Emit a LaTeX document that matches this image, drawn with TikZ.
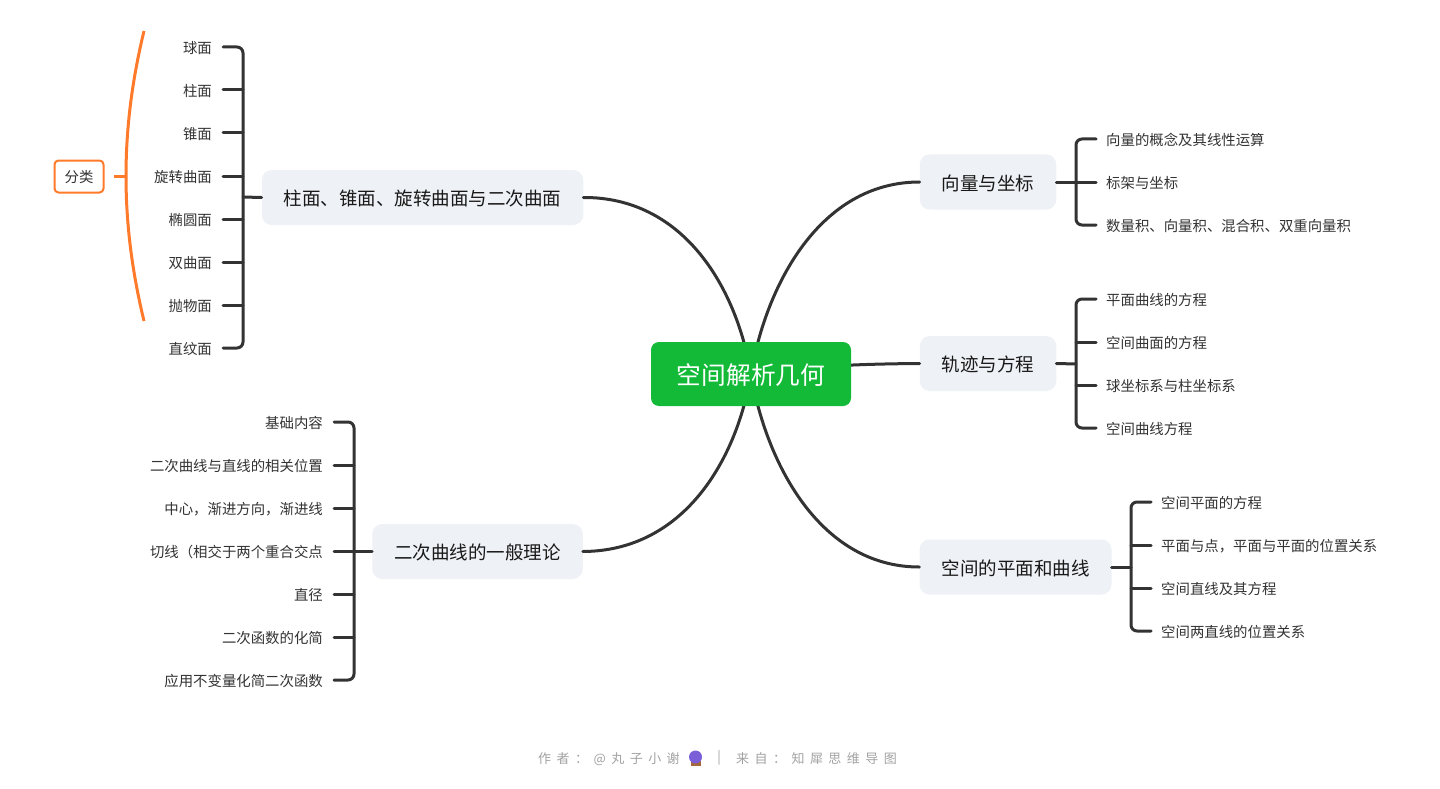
\documentclass[tikz,border=0pt]{standalone}
\usepackage{fontspec}
\setmainfont{Noto Sans CJK SC}
\newfontfamily\footfont[LetterSpace=42]{Noto Sans CJK SC}
\definecolor{linec}{HTML}{333333}
\definecolor{rootc}{HTML}{13BA38}
\definecolor{mainc}{HTML}{EEF1F5}
\definecolor{sumc}{HTML}{FF7A2B}
\definecolor{footc}{HTML}{A3A3A3}
\definecolor{orbc}{HTML}{7B5FD9}
\definecolor{basec}{HTML}{A5683A}
\tikzset{
  rootbox/.style={fill=rootc, rounded corners=8pt, minimum width=200pt, minimum height=64pt, inner sep=0pt, text=white, text height=24pt, text depth=3pt, font=\fontsize{24.7pt}{28pt}\selectfont},
  mainbox/.style={fill=mainc, rounded corners=10pt, minimum height=55pt, inner xsep=22pt, inner ysep=0pt, text=black!90, text height=18pt, text depth=2pt, font=\fontsize{18.5pt}{22pt}\selectfont},
  leafl/.style={anchor=east, inner xsep=11pt, inner ysep=0pt, text=linec, text height=15pt, text depth=2pt, font=\fontsize{14.4pt}{18pt}\selectfont},
  leafr/.style={anchor=west, inner xsep=10pt, inner ysep=0pt, text=linec, text height=15pt, text depth=2pt, font=\fontsize{14.4pt}{18pt}\selectfont},
  catbox/.style={draw=sumc, line width=2pt, rounded corners=4pt, minimum width=49pt, minimum height=32pt, inner sep=0pt, text=linec, text height=14pt, text depth=2pt, font=\fontsize{14.4pt}{18pt}\selectfont},
  link/.style={draw=linec, line width=3pt, line cap=round},
  brace/.style={link, rounded corners=6pt},
  sumline/.style={draw=sumc, line width=3pt},
  foot/.style={inner sep=0pt, text=footc, font=\footfont\fontsize{13pt}{16pt}\selectfont}
}
\begin{document}
\begin{tikzpicture}[x=1pt,y=-1pt]
\useasboundingbox[fill=white] (0,0) rectangle (1440,789);
\coordinate (hub) at (751,374);
\coordinate (spa) at (243,197);
\coordinate (spb) at (354,551);
\coordinate (spc) at (1076,182);
\coordinate (spd) at (1076,364);
\coordinate (spe) at (1131,567);
% main topics
\node[mainbox] (ma) at (422.5,197.5){柱面、锥面、旋转曲面与二次曲面};
\node[mainbox] (mb) at (477.5,551.5){二次曲线的一般理论};
\node[mainbox] (mc) at (988,182){向量与坐标};
\node[mainbox] (md) at (988,363.5){轨迹与方程};
\node[mainbox] (me) at (1015.5,567){空间的平面和曲线};
% curves from the centre
\draw[link] (hub) .. controls (736,285) and (682,197) .. (ma.east);
\draw[link] (hub) .. controls (736,463) and (682,551) .. (mb.east);
\draw[link] (hub) .. controls (766,285) and (820,182) .. (mc.west);
\draw[link] (hub) .. controls (800,367) and (850,364) .. (md.west);
\draw[link] (hub) .. controls (766,463) and (820,567) .. (me.west);
\node[rootbox] (root) at (hub){空间解析几何};
% group one
\node[leafl] (a1) at (223,47){球面};
\node[leafl] (a2) at (223,90){柱面};
\node[leafl] (a3) at (223,133){锥面};
\node[leafl] (a4) at (223,176){旋转曲面};
\node[leafl] (a5) at (223,219){椭圆面};
\node[leafl] (a6) at (223,262){双曲面};
\node[leafl] (a7) at (223,305){抛物面};
\node[leafl] (a8) at (223,348){直纹面};
\draw[brace] (a1.east) -| (spa) |- (a8.east);
\draw[link] (a2.east) -- (a2.east -| spa);
\draw[link] (a3.east) -- (a3.east -| spa);
\draw[link] (a4.east) -- (a4.east -| spa);
\draw[link] (a5.east) -- (a5.east -| spa);
\draw[link] (a6.east) -- (a6.east -| spa);
\draw[link] (a7.east) -- (a7.east -| spa);
\draw[link] (ma.west) -- (spa);
% group two
\node[leafl] (b1) at (334,422){基础内容};
\node[leafl] (b2) at (334,465){二次曲线与直线的相关位置};
\node[leafl] (b3) at (334,508){中心，渐进方向，渐进线};
\node[leafl] (b4) at (334,551){切线（相交于两个重合交点};
\node[leafl] (b5) at (334,594){直径};
\node[leafl] (b6) at (334,637){二次函数的化简};
\node[leafl] (b7) at (334,680){应用不变量化简二次函数};
\draw[brace] (b1.east) -| (spb) |- (b7.east);
\draw[link] (b2.east) -- (b2.east -| spb);
\draw[link] (b3.east) -- (b3.east -| spb);
\draw[link] (b4.east) -- (b4.east -| spb);
\draw[link] (b5.east) -- (b5.east -| spb);
\draw[link] (b6.east) -- (b6.east -| spb);
\draw[link] (mb.west) -- (mb.west -| spb);
% group three
\node[leafr] (c1) at (1096,139){向量的概念及其线性运算};
\node[leafr] (c2) at (1096,182){标架与坐标};
\node[leafr] (c3) at (1096,225){数量积、向量积、混合积、双重向量积};
\draw[brace] (c1.west) -| (spc) |- (c3.west);
\draw[link] (mc.east) -- (c2.west);
% group four
\node[leafr] (d1) at (1096,299){平面曲线的方程};
\node[leafr] (d2) at (1096,342){空间曲面的方程};
\node[leafr] (d3) at (1096,385){球坐标系与柱坐标系};
\node[leafr] (d4) at (1096,428){空间曲线方程};
\draw[brace] (d1.west) -| (spd) |- (d4.west);
\draw[link] (d2.west) -- (d2.west -| spd);
\draw[link] (d3.west) -- (d3.west -| spd);
\draw[link] (md.east) -- (spd);
% group five
\node[leafr] (e1) at (1151,502){空间平面的方程};
\node[leafr] (e2) at (1151,545){平面与点，平面与平面的位置关系};
\node[leafr] (e3) at (1151,588){空间直线及其方程};
\node[leafr] (e4) at (1151,631){空间两直线的位置关系};
\draw[brace] (e1.west) -| (spe) |- (e4.west);
\draw[link] (e2.west) -- (e2.west -| spe);
\draw[link] (e3.west) -- (e3.west -| spe);
\draw[link] (me.east) -- (spe);
% summary
\node[catbox] (cat) at (79,176.5){分类};
\coordinate (sumtop) at (144,31);
\coordinate (sumbot) at (144,321);
\coordinate (summid) at (126,176);
\coordinate (cattip) at (114,176);
\draw[sumline] (sumtop) .. controls (120,130) and (120,222) .. (sumbot);
\draw[sumline] (cattip) -- (summid);
% footer
\node[foot, anchor=west] (fa) at (538,759){作者：@丸子小谢};
\node[foot] (fb) at (719,758){|};
\node[foot, anchor=west] (fc) at (736,759){来自：知犀思维导图};
\fill[basec] (690.5,761) rectangle (700.5,765.5);
\node[circle, fill=orbc, minimum size=13pt, inner sep=0pt] (ball) at (695.5,757){};
\end{tikzpicture}
\end{document}
